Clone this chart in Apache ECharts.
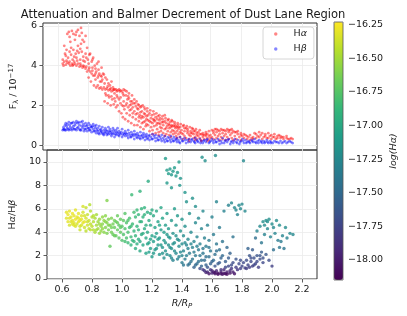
<!DOCTYPE html>
<html><head><meta charset="utf-8">
<script src="https://cdn.jsdelivr.net/npm/echarts@6/dist/echarts.min.js"></script>
<style>html,body{margin:0;padding:0;background:#fff}#c{width:407px;height:316px}</style>
</head><body><div id="c"></div>
<script>
const xTicks = [0.6,0.8,1.0,1.2,1.4,1.6,1.8,2.0,2.2];
const fluxTicks = [0,2,4,6];
const ratioTicks = [0,2,4,6,8,10];
const cbarTicks = [-18.0,-17.75,-17.5,-17.25,-17.0,-16.75,-16.5,-16.25];

// H-alpha flux [R/Rp, F / 1e-17]
const haPoints = [
[0.63,4.1],[0.63,4.3],[0.64,4.2],[0.64,5.0],[0.645,4.6],[0.65,4.05],[0.65,4.5],[0.66,4.15],[0.66,5.6],[0.665,4.4],[0.67,4.1],[0.67,5.7],[0.675,4.7],[0.68,4.0],[0.68,5.2],[0.685,4.55],[0.69,4.1],[0.69,5.75],[0.695,4.3],[0.70,4.05],[0.70,5.6],[0.70,4.8],
[0.71,4.1],[0.71,5.3],[0.715,4.6],[0.72,4.0],[0.72,5.7],[0.72,4.4],[0.73,4.1],[0.73,5.8],[0.73,5.0],[0.735,4.65],[0.74,3.95],[0.74,5.5],[0.745,4.3],[0.75,4.0],[0.75,5.9],[0.75,5.1],[0.755,4.7],[0.76,3.9],[0.76,5.3],[0.765,4.45],[0.77,3.95],[0.77,5.2],[0.775,4.2],[0.78,3.85],[0.78,5.5],[0.78,4.6],[0.79,3.7],[0.79,4.9],[0.795,4.3],[0.80,3.8],[0.80,4.1],[0.80,3.4],
[0.81,3.7],[0.81,4.6],[0.815,3.2],[0.82,3.6],[0.82,4.2],[0.825,3.9],[0.83,3.5],[0.83,4.4],[0.835,3.0],[0.84,3.5],[0.84,4.0],[0.845,3.3],[0.85,3.7],[0.85,2.9],[0.855,4.1],[0.86,3.4],[0.86,3.0],[0.865,3.8],[0.87,3.6],[0.87,2.85],[0.875,3.2],[0.88,3.5],[0.88,2.9],[0.885,3.9],[0.89,3.3],[0.89,2.8],[0.895,3.6],[0.90,3.55],[0.90,2.9],
[0.905,2.2],[0.91,3.4],[0.91,2.8],[0.915,2.5],[0.92,3.3],[0.92,2.85],[0.925,2.1],[0.93,3.1],[0.93,2.75],[0.935,2.4],[0.94,3.0],[0.94,2.8],[0.945,2.0],[0.95,3.2],[0.95,2.7],[0.955,2.3],[0.96,2.9],[0.96,2.75],[0.965,2.05],[0.97,2.8],[0.97,2.6],[0.975,2.2],[0.98,2.8],[0.98,1.9],[0.985,2.5],[0.99,2.75],[0.99,2.0],[1.0,2.8],[1.0,2.3],[1.0,1.7],
[1.01,2.75],[1.01,2.1],[1.015,1.6],[1.02,2.7],[1.02,2.0],[1.025,1.4],[1.03,2.8],[1.03,2.2],[1.035,1.8],[1.04,2.75],[1.04,1.3],[1.045,2.0],[1.05,2.7],[1.05,1.6],[1.055,2.3],[1.06,1.9],[1.06,1.2],[1.065,2.6],[1.07,2.0],[1.07,1.5],[1.075,2.2],[1.08,1.8],[1.08,1.1],[1.085,2.5],[1.09,1.9],[1.09,1.4],[1.095,2.1],[1.10,1.7],[1.10,1.0],[1.10,2.3],
[1.11,1.95],[1.11,1.3],[1.115,2.2],[1.12,1.6],[1.12,1.0],[1.125,1.8],[1.13,2.0],[1.13,1.2],[1.135,1.5],[1.14,1.9],[1.14,0.9],[1.145,1.35],[1.15,1.7],[1.15,1.1],[1.155,2.0],[1.16,1.4],[1.16,0.8],[1.165,1.6],[1.17,1.2],[1.17,1.8],[1.175,0.95],[1.18,1.45],[1.18,1.3],[1.185,1.7],[1.19,1.0],[1.19,1.5],[1.2,1.2],[1.2,0.7],[1.2,1.6],
[1.21,1.35],[1.21,0.9],[1.215,1.5],[1.22,1.1],[1.22,0.75],[1.225,1.3],[1.23,1.55],[1.23,0.95],[1.235,1.2],[1.24,1.4],[1.24,0.6],[1.245,1.0],[1.25,1.3],[1.25,0.8],[1.255,1.45],[1.26,1.1],[1.26,0.65],[1.265,1.25],[1.27,0.9],[1.27,1.35],[1.275,0.7],[1.28,1.15],[1.28,0.85],[1.285,1.3],[1.29,1.0],[1.29,0.6],[1.3,1.2],[1.3,0.8],[1.3,1.5],
[1.31,1.1],[1.31,0.55],[1.315,0.95],[1.32,1.25],[1.32,0.7],[1.325,1.05],[1.33,0.85],[1.33,0.5],[1.335,1.15],[1.34,0.9],[1.34,0.65],[1.345,1.0],[1.35,0.75],[1.35,1.2],[1.355,0.55],[1.36,0.95],[1.36,0.7],[1.365,1.05],[1.37,0.6],[1.37,0.85],[1.375,0.45],[1.38,0.9],[1.38,0.7],[1.385,1.0],[1.39,0.55],[1.39,0.8],[1.4,0.65],[1.4,0.9],[1.4,0.4],
[1.41,0.75],[1.42,0.55],[1.42,0.95],[1.43,0.45],[1.43,0.7],[1.44,0.85],[1.44,0.35],[1.45,0.6],[1.45,0.8],[1.46,0.5],[1.46,0.3],[1.47,0.7],[1.47,0.45],[1.48,0.6],[1.48,0.85],[1.49,0.35],[1.49,0.55],[1.5,0.7],[1.5,0.4],[1.51,0.5],[1.51,0.3],[1.52,0.65],[1.52,0.45],[1.53,0.75],[1.53,0.35],[1.54,0.55],[1.54,0.25],[1.55,0.6],[1.55,0.4],[1.56,0.5],[1.56,0.3],[1.57,0.65],[1.57,0.45],[1.58,0.35],[1.58,0.55],[1.59,0.7],[1.59,0.25],[1.6,0.5],[1.6,0.35],
[1.61,0.75],[1.61,0.4],[1.62,0.6],[1.62,0.3],[1.63,0.8],[1.63,0.5],[1.64,0.35],[1.64,0.65],[1.65,0.75],[1.65,0.45],[1.66,0.25],[1.66,0.55],[1.67,0.8],[1.67,0.4],[1.68,0.6],[1.68,0.3],[1.69,0.75],[1.69,0.45],[1.70,0.55],[1.70,0.25],[1.71,0.8],[1.71,0.4],[1.72,0.65],[1.72,0.3],[1.73,0.75],[1.73,0.5],[1.74,0.35],[1.74,0.6],[1.75,0.7],[1.75,0.25],[1.76,0.45],[1.77,0.65],[1.77,0.3],[1.78,0.55],[1.79,0.4],[1.80,0.6],[1.80,0.25],[1.81,0.45],[1.82,0.35],[1.83,0.5],[1.84,0.3],[1.85,0.4],[1.86,0.25],[1.87,0.35],[1.88,0.3],
[1.89,0.6],[1.90,0.55],[1.91,0.45],[1.92,0.65],[1.93,0.5],[1.94,0.6],[1.95,0.4],[1.96,0.55],[1.97,0.35],[1.98,0.6],[1.99,0.45],[2.0,0.5],[2.01,0.4],[2.02,0.55],[2.03,0.3],[2.04,0.45],[2.05,0.5],[2.06,0.35],[2.07,0.4],[2.08,0.3],[2.1,0.35],[2.12,0.3],[2.14,0.3],
[0.635,4.0],[0.655,4.25],[0.675,4.2],[0.695,4.0],[0.705,4.2],[0.725,4.25],[0.745,4.1],[0.765,4.0],[0.785,3.95],[0.805,3.9],[0.825,3.75],[0.845,3.6],[0.865,3.5],[0.885,3.2],[0.905,3.1],[0.925,2.95],[0.945,2.85],[0.965,2.8],[0.985,2.7],[1.005,2.7],[1.025,2.6],[1.045,2.5],[1.065,2.35],[1.085,2.2],[1.105,2.1],[1.125,2.05],[1.145,1.95],[1.165,1.9],[1.185,1.85],[1.205,1.75],[1.225,1.7],[1.245,1.6],[1.265,1.5],[1.285,1.45],[1.305,1.35],[1.325,1.3],[1.345,1.25],[1.365,1.15],[1.385,1.1],[1.405,1.05],[1.425,1.0],[1.445,0.95],[1.465,0.9],[1.485,0.8],[1.505,0.8],
[0.91,2.6],[0.93,2.5],[0.95,2.45],[0.97,2.35],[0.99,2.4],[1.01,2.4],[1.03,1.95],[1.05,2.1],[1.07,1.75],[1.09,1.6],[1.11,1.55],[1.13,1.4],[1.15,1.45],[1.17,1.55],[1.19,1.25],[1.03,2.5],[1.06,2.45],[1.08,2.05],[1.12,1.85],[1.14,1.65],[1.16,1.15],[1.18,1.05],
[1.21,1.15],[1.23,1.25],[1.25,1.1],[1.27,1.05],[1.29,1.15],[1.31,0.85],[1.33,1.0],[1.35,0.95],[1.37,0.95],[1.39,0.9],[1.41,0.6],[1.43,0.85],[1.45,0.7],[1.47,0.6],[1.49,0.7],[1.51,0.6],[1.53,0.55],[1.55,0.5],[1.57,0.55],[1.59,0.45],[1.22,0.55],[1.26,0.5],[1.3,0.45],[1.34,0.4],[1.38,0.35],[1.42,0.3],[1.46,0.2],[1.5,0.25],[1.54,0.2],[1.58,0.2],
[1.62,0.7],[1.64,0.8],[1.66,0.7],[1.68,0.75],[1.70,0.7],[1.72,0.75],[1.74,0.8],[1.76,0.65],[1.78,0.7],[1.80,0.5],[1.82,0.55],[1.84,0.45],[1.86,0.5],[1.88,0.4],[1.90,0.35],[1.92,0.4],[1.94,0.3],[1.96,0.45],[1.98,0.35],[2.0,0.3],[2.02,0.4],[2.04,0.35],[2.06,0.45],[2.08,0.4],[2.10,0.45],[2.11,0.3],[2.13,0.35],
[0.655,4.8],[0.685,4.9],[0.705,4.45],[0.725,4.75],[0.745,4.85],[0.765,4.25],[0.785,4.4],[0.805,4.55],[0.825,4.3],[0.845,3.85],[0.865,4.2],[0.885,3.45],[0.675,5.45],[0.715,5.55],[0.755,5.65]
];

// H-beta flux [R/Rp, F / 1e-17]
const hbPoints = [
[0.63,0.75],[0.635,0.9],[0.64,0.8],[0.645,1.0],[0.65,0.75],[0.65,1.1],[0.66,0.85],[0.66,1.05],[0.67,0.75],[0.67,1.15],[0.68,0.9],[0.68,0.8],[0.69,1.1],[0.69,0.75],[0.70,0.95],[0.70,1.15],[0.71,0.8],[0.71,1.0],[0.72,0.75],[0.72,1.2],[0.73,0.9],[0.73,1.1],[0.74,0.8],[0.74,1.0],[0.75,0.75],[0.75,1.15],[0.76,0.85],[0.76,1.2],[0.77,0.95],[0.77,0.7],[0.78,1.1],[0.78,0.8],[0.79,1.0],[0.79,0.7],[0.80,1.1],[0.80,0.85],[0.81,0.75],[0.81,1.0],[0.82,0.9],[0.82,0.65],[0.83,1.05],[0.83,0.8],[0.84,0.7],[0.84,0.95],[0.85,1.0],[0.85,0.6],[0.86,0.85],[0.86,0.7],[0.87,0.95],[0.87,0.55],[0.88,0.8],[0.88,0.65],[0.89,0.9],[0.89,0.6],[0.90,0.75],[0.90,0.5],
[0.91,0.85],[0.91,0.6],[0.92,0.7],[0.92,0.5],[0.93,0.9],[0.93,0.55],[0.94,0.65],[0.94,0.8],[0.95,0.45],[0.95,0.7],[0.96,0.85],[0.96,0.55],[0.97,0.65],[0.97,0.4],[0.98,0.75],[0.98,0.5],[0.99,0.6],[0.99,0.85],[1.0,0.45],[1.0,0.7],[1.01,0.55],[1.02,0.8],[1.02,0.4],[1.03,0.6],[1.04,0.7],[1.04,0.45],[1.05,0.55],[1.06,0.75],[1.06,0.35],[1.07,0.5],[1.08,0.65],[1.08,0.4],[1.09,0.55],[1.10,0.7],[1.10,0.3],[1.11,0.5],[1.12,0.6],[1.12,0.35],[1.13,0.45],[1.14,0.65],[1.14,0.3],[1.15,0.5],[1.16,0.4],[1.16,0.6],[1.17,0.25],[1.18,0.45],[1.18,0.55],[1.19,0.35],[1.2,0.5],[1.2,0.25],
[1.21,0.4],[1.22,0.55],[1.22,0.3],[1.23,0.45],[1.24,0.2],[1.24,0.5],[1.25,0.35],[1.26,0.45],[1.26,0.25],[1.27,0.4],[1.28,0.5],[1.28,0.2],[1.29,0.35],[1.30,0.45],[1.30,0.15],[1.31,0.3],[1.32,0.4],[1.32,0.2],[1.33,0.35],[1.34,0.45],[1.34,0.15],[1.35,0.3],[1.36,0.4],[1.36,0.2],[1.37,0.3],[1.38,0.35],[1.38,0.15],[1.39,0.25],[1.40,0.4],[1.40,0.1],[1.41,0.3],[1.42,0.2],[1.43,0.35],[1.44,0.1],[1.45,0.25],[1.46,0.3],[1.47,0.15],[1.48,0.3],[1.49,0.2],[1.50,0.35],[1.50,0.1],[1.51,0.25],[1.52,0.15],[1.53,0.3],[1.54,0.2],[1.55,0.1],[1.56,0.25],[1.57,0.15],[1.58,0.3],[1.59,0.1],[1.60,0.2],
[1.61,0.3],[1.62,0.1],[1.63,0.25],[1.64,0.15],[1.65,0.3],[1.66,0.05],[1.67,0.2],[1.68,0.35],[1.69,0.1],[1.70,0.25],[1.71,0.15],[1.72,0.3],[1.73,0.05],[1.74,0.2],[1.75,0.1],[1.76,0.3],[1.77,0.15],[1.78,0.25],[1.79,0.05],[1.80,0.2],[1.81,0.3],[1.82,0.1],[1.83,0.25],[1.84,0.15],[1.85,0.2],[1.86,0.1],[1.87,0.25],[1.88,0.15],[1.89,0.3],[1.90,0.1],[1.91,0.2],[1.92,0.25],[1.93,0.15],[1.94,0.1],[1.95,0.2],[1.96,0.15],[1.97,0.25],[1.98,0.1],[1.99,0.2],[2.0,0.15],[2.01,0.1],[2.02,0.2],[2.04,0.15],[2.05,0.1],[2.06,0.2],[2.08,0.15],[2.10,0.1],[2.12,0.2],[2.14,0.1],
[0.635,0.8],[0.645,0.75],[0.655,0.95],[0.665,0.8],[0.675,1.0],[0.685,1.1],[0.695,0.85],[0.705,0.8],[0.715,1.1],[0.725,0.85],[0.735,1.15],[0.745,0.75],[0.755,0.95],[0.765,1.05],[0.775,0.8],[0.785,0.95],[0.795,0.85],[0.805,0.75],[0.815,0.9],[0.825,0.95],[0.835,0.7],[0.845,0.85],[0.855,0.75],[0.865,0.6],[0.875,0.75],[0.885,0.7],[0.895,0.55],
[0.905,0.65],[0.915,0.75],[0.925,0.6],[0.935,0.7],[0.945,0.55],[0.955,0.6],[0.965,0.75],[0.975,0.55],[0.985,0.65],[0.995,0.5],[1.005,0.6],[1.015,0.65],[1.025,0.5],[1.035,0.55],[1.045,0.6],[1.055,0.45],[1.065,0.6],[1.075,0.4],[1.085,0.5],[1.095,0.45],[1.105,0.55],[1.115,0.4],[1.125,0.5],[1.135,0.35],[1.145,0.45],[1.155,0.35],[1.165,0.5],[1.175,0.4],[1.185,0.3],[1.195,0.45],
[1.215,0.3],[1.235,0.35],[1.255,0.25],[1.275,0.3],[1.295,0.25],[1.315,0.2],[1.335,0.25],[1.355,0.2],[1.375,0.25],[1.395,0.15],[1.415,0.2],[1.435,0.25],[1.455,0.15],[1.475,0.25],[1.495,0.15],[1.515,0.2],[1.535,0.1],[1.555,0.2],[1.575,0.25],[1.595,0.15],[1.615,0.2],[1.635,0.15],[1.655,0.2],[1.675,0.1],[1.695,0.2],[1.715,0.25],[1.735,0.15],[1.755,0.2],[1.775,0.1],[1.795,0.15],[1.815,0.2],[1.835,0.1],[1.855,0.15],[1.875,0.2],[1.895,0.15],[1.915,0.1],[1.935,0.2],[1.955,0.1],[1.975,0.15],[1.995,0.1],[2.03,0.15],[2.07,0.1],[2.09,0.2],[2.11,0.15],[2.13,0.15]
];

// Balmer decrement [R/Rp, Halpha/Hbeta, log(Halpha)]
const ratioPoints = [
[0.63,5.7,-16.3],[0.63,5.2,-16.32],[0.64,4.9,-16.3],[0.64,5.5,-16.28],[0.65,5.8,-16.3],[0.65,4.6,-16.35],[0.66,5.3,-16.3],[0.66,4.9,-16.32],[0.67,5.6,-16.28],[0.67,5.0,-16.3],[0.68,4.8,-16.32],[0.68,5.4,-16.3],[0.69,5.9,-16.3],[0.69,5.1,-16.28],[0.70,4.7,-16.35],[0.70,5.3,-16.3],[0.71,5.6,-16.3],[0.71,4.9,-16.3],[0.72,5.0,-16.28],[0.72,4.5,-16.35],[0.73,5.4,-16.32],[0.73,5.1,-16.3],[0.74,4.8,-16.3],[0.74,5.7,-16.35],[0.75,4.9,-16.3],[0.75,4.4,-16.38],[0.76,5.2,-16.35],[0.76,6.1,-16.4],[0.77,4.6,-16.38],[0.77,5.5,-16.4],[0.78,4.3,-16.4],[0.78,5.0,-16.38],[0.79,4.7,-16.42],[0.79,5.8,-16.45],[0.80,4.5,-16.42],[0.80,5.3,-16.45],[0.785,6.35,-16.45],[0.74,6.2,-16.35],[0.76,4.1,-16.42],[0.68,4.6,-16.32],[0.72,4.2,-16.38],
[0.81,4.2,-16.45],[0.81,4.9,-16.45],[0.82,4.0,-16.48],[0.82,5.2,-16.48],[0.83,4.6,-16.5],[0.83,5.5,-16.5],[0.84,4.3,-16.5],[0.84,4.9,-16.52],[0.85,3.9,-16.52],[0.85,5.1,-16.52],[0.86,4.5,-16.55],[0.86,4.1,-16.55],[0.87,5.3,-16.55],[0.87,4.7,-16.58],[0.88,4.0,-16.58],[0.88,5.0,-16.55],[0.89,4.4,-16.6],[0.89,5.4,-16.58],[0.90,4.8,-16.6],[0.90,3.9,-16.62],[0.90,6.7,-16.6],[0.91,4.2,-16.62],[0.91,5.1,-16.6],[0.92,4.6,-16.62],[0.92,2.8,-16.7],[0.93,4.0,-16.65],[0.93,5.2,-16.62],[0.94,4.7,-16.65],[0.94,3.8,-16.68],[0.95,5.0,-16.65],[0.95,4.4,-16.68],[0.96,3.7,-16.7],[0.96,4.9,-16.68],[0.97,4.2,-16.7],[0.97,5.4,-16.68],[0.98,4.6,-16.72],[0.98,3.5,-16.72],[0.99,5.1,-16.7],[0.99,4.0,-16.72],[1.0,4.5,-16.75],[1.0,3.3,-16.78],
[1.01,5.0,-16.72],[1.01,3.8,-16.78],[1.02,4.3,-16.78],[1.02,5.6,-16.75],[1.03,3.5,-16.8],[1.03,4.8,-16.78],[1.04,4.0,-16.8],[1.04,3.1,-16.85],[1.05,5.2,-16.8],[1.05,4.4,-16.82],[1.06,3.6,-16.85],[1.06,2.9,-16.9],[1.065,7.2,-16.85],[1.07,4.7,-16.85],[1.07,3.3,-16.9],[1.08,5.7,-16.82],[1.08,4.1,-16.88],[1.09,2.6,-16.95],[1.09,3.7,-16.9],[1.10,5.9,-16.85],[1.10,4.5,-16.9],[1.10,3.0,-16.95],[1.11,5.5,-16.88],[1.11,3.4,-16.95],[1.12,7.5,-16.9],[1.12,4.9,-16.9],[1.12,2.4,-17.0],[1.13,6.0,-16.9],[1.13,3.8,-16.98],[1.14,5.3,-16.92],[1.14,2.9,-17.02],[1.15,4.3,-16.98],[1.15,6.1,-16.92],[1.16,3.5,-17.0],[1.16,2.2,-17.05],[1.17,5.7,-16.95],[1.17,4.0,-17.0],[1.175,8.35,-16.98],[1.18,3.1,-17.05],[1.18,5.0,-16.98],[1.19,2.6,-17.08],[1.19,4.6,-17.02],[1.2,5.9,-16.98],[1.2,3.7,-17.05],[1.2,1.9,-17.1],
[1.21,5.4,-17.0],[1.21,3.2,-17.08],[1.22,4.4,-17.05],[1.22,2.5,-17.12],[1.23,5.8,-17.0],[1.23,3.9,-17.08],[1.24,2.9,-17.12],[1.24,4.9,-17.05],[1.25,2.1,-17.15],[1.25,3.5,-17.1],[1.26,6.1,-17.02],[1.26,4.2,-17.1],[1.27,2.7,-17.15],[1.27,5.2,-17.05],[1.28,3.3,-17.12],[1.28,1.8,-17.2],[1.29,4.6,-17.1],[1.29,10.3,-17.1],[1.29,2.4,-17.18],[1.30,5.6,-17.08],[1.30,3.8,-17.12],[1.30,8.2,-17.12],[1.30,9.3,-17.1],[1.31,2.9,-17.18],[1.31,9.0,-17.1],[1.31,4.3,-17.12],[1.32,2.0,-17.22],[1.32,9.4,-17.12],[1.32,3.5,-17.15],[1.33,5.0,-17.12],[1.33,8.9,-17.12],[1.33,2.6,-17.2],[1.34,9.2,-17.12],[1.34,3.9,-17.18],[1.34,1.6,-17.3],[1.35,6.0,-17.1],[1.35,9.5,-17.1],[1.35,3.1,-17.2],[1.36,2.2,-17.25],[1.36,8.8,-17.12],[1.36,4.6,-17.15],[1.37,9.1,-17.12],[1.37,3.4,-17.2],[1.37,5.4,-17.12],[1.38,1.9,-17.3],[1.38,10.0,-17.1],[1.38,2.8,-17.22],[1.39,4.1,-17.18],[1.39,8.6,-17.15],[1.40,3.0,-17.22],[1.40,1.4,-17.35],[1.40,5.1,-17.15],[1.385,8.0,-17.15],[1.33,7.8,-17.12],
[1.41,2.4,-17.28],[1.41,3.7,-17.22],[1.42,7.4,-17.15],[1.42,1.7,-17.35],[1.42,4.5,-17.2],[1.43,2.9,-17.28],[1.43,6.6,-17.18],[1.44,1.2,-17.45],[1.44,3.4,-17.25],[1.45,5.6,-17.2],[1.45,2.2,-17.35],[1.46,4.0,-17.25],[1.46,1.5,-17.42],[1.47,6.9,-17.18],[1.47,2.7,-17.3],[1.48,3.2,-17.28],[1.48,1.0,-17.55],[1.49,4.8,-17.25],[1.49,6.2,-17.2],[1.49,2.0,-17.38],[1.50,3.6,-17.28],[1.50,1.3,-17.48],[1.51,2.5,-17.35],[1.51,5.2,-17.25],[1.52,0.9,-17.7],[1.52,3.0,-17.32],[1.53,4.3,-17.28],[1.53,1.6,-17.45],[1.534,10.4,-17.18],[1.554,10.1,-17.2],[1.54,2.2,-17.4],[1.54,5.8,-17.25],[1.55,0.7,-17.85],[1.55,3.5,-17.32],[1.56,1.2,-17.55],[1.56,2.8,-17.35],[1.57,4.6,-17.3],[1.57,0.6,-17.9],[1.58,1.9,-17.45],[1.58,3.3,-17.35],[1.59,0.8,-17.85],[1.59,2.4,-17.4],[1.60,5.3,-17.3],[1.60,0.5,-17.95],[1.60,1.5,-17.55],
[1.61,0.6,-18.0],[1.61,3.8,-17.35],[1.62,2.1,-17.45],[1.62,0.45,-18.05],[1.623,10.55,-17.2],[1.63,6.6,-17.28],[1.63,0.7,-17.95],[1.63,3.0,-17.4],[1.64,1.3,-17.6],[1.64,0.5,-18.05],[1.65,4.4,-17.35],[1.65,2.5,-17.45],[1.66,0.6,-18.0],[1.66,1.8,-17.55],[1.67,0.4,-18.08],[1.67,3.2,-17.42],[1.68,5.8,-17.3],[1.68,0.8,-17.95],[1.69,1.5,-17.6],[1.69,0.45,-18.1],[1.70,2.7,-17.5],[1.70,0.6,-18.0],[1.71,1.1,-17.75],[1.71,6.3,-17.3],[1.72,0.5,-18.05],[1.72,2.2,-17.55],[1.73,0.9,-17.85],[1.73,6.5,-17.25],[1.74,1.4,-17.7],[1.74,3.6,-17.42],[1.75,0.45,-18.05],[1.75,6.1,-17.25],[1.76,1.0,-17.8],[1.76,1.7,-17.65],[1.77,0.8,-17.85],[1.77,5.5,-17.28],[1.78,1.3,-17.72],[1.78,6.3,-17.25],[1.79,0.9,-17.8],[1.79,1.6,-17.7],[1.80,1.1,-17.75],[1.80,6.4,-17.25],[1.81,10.1,-17.25],[1.81,1.4,-17.72],[1.82,5.8,-17.25],
[1.82,0.95,-17.78],[1.83,1.6,-17.7],[1.84,1.2,-17.75],[1.85,2.0,-17.65],[1.85,1.0,-17.8],[1.86,1.5,-17.72],[1.87,2.5,-17.6],[1.87,1.1,-17.78],[1.88,1.8,-17.68],[1.89,1.3,-17.75],[1.89,3.5,-17.45],[1.90,2.0,-17.65],[1.90,4.1,-17.3],[1.91,1.0,-17.8],[1.92,1.7,-17.7],[1.92,4.5,-17.25],[1.93,2.3,-17.6],[1.94,4.9,-17.2],[1.94,1.4,-17.72],[1.95,3.8,-17.3],[1.96,2.1,-17.62],[1.96,5.0,-17.2],[1.97,4.3,-17.25],[1.98,1.6,-17.7],[1.98,5.1,-17.2],[1.99,3.6,-17.3],[2.0,1.1,-17.78],[2.0,4.7,-17.22],[2.01,2.5,-17.45],[2.02,3.9,-17.28],[2.03,5.0,-17.22],[2.04,3.3,-17.35],[2.05,2.7,-17.4],[2.05,4.6,-17.22],[2.07,3.7,-17.28],[2.08,2.6,-17.4],[2.09,4.4,-17.22],[2.10,3.5,-17.3],[2.12,3.9,-17.25],[2.14,3.8,-17.25],
[1.12,3.2,-17.0],[1.14,3.9,-16.98],[1.16,4.6,-16.95],[1.18,2.3,-17.08],[1.19,3.4,-17.05],[1.21,2.2,-17.12],[1.22,3.6,-17.08],[1.23,2.6,-17.12],[1.24,3.4,-17.1],[1.25,4.6,-17.05],[1.26,2.9,-17.12],[1.27,2.2,-17.18],[1.28,4.0,-17.1],[1.29,3.1,-17.15],[1.30,2.1,-17.2],[1.31,3.6,-17.15],[1.32,2.7,-17.18],[1.33,1.8,-17.25],[1.34,3.0,-17.18],[1.35,2.4,-17.22],[1.36,3.7,-17.18],[1.37,1.7,-17.3],[1.38,3.3,-17.2],[1.39,2.3,-17.25],[1.40,2.0,-17.28],[1.41,1.2,-17.4],[1.42,3.1,-17.25],[1.43,2.0,-17.32],[1.44,2.6,-17.3],[1.45,1.3,-17.45],[1.46,3.0,-17.28],[1.47,1.7,-17.4],[1.48,2.3,-17.35],[1.49,1.2,-17.5],[1.50,2.8,-17.32],[1.51,1.5,-17.45],[1.52,2.0,-17.4],[1.53,1.1,-17.55],[1.54,2.6,-17.38],[1.55,1.6,-17.5],[1.56,1.9,-17.45],[1.57,1.0,-17.65],[1.58,2.7,-17.4],[1.59,1.3,-17.55],[1.61,1.6,-17.5],[1.62,1.1,-17.65],[1.63,2.4,-17.45],[1.65,1.4,-17.6],[1.66,0.8,-17.9],[1.67,2.0,-17.5],[1.69,1.0,-17.75],[1.71,1.8,-17.6],[1.73,1.2,-17.7],[1.74,0.6,-18.0],[1.58,0.45,-18.05],[1.60,0.7,-17.95],[1.62,0.55,-18.05],[1.64,0.4,-18.1],[1.66,0.45,-18.05],[1.68,0.5,-18.05],[1.70,0.4,-18.1],[1.72,0.7,-17.95],[1.56,0.55,-17.95],[1.54,0.8,-17.85],
[1.02,3.2,-16.82],[1.04,5.0,-16.78],[1.06,4.5,-16.85],[1.08,3.2,-16.9],[1.09,5.3,-16.85],[1.11,4.2,-16.92],[1.13,4.9,-16.92],[1.15,5.5,-16.92],[1.17,3.0,-17.05],[1.19,5.6,-16.95],
[0.65,5.2,-16.3],[0.67,4.7,-16.32],[0.69,4.5,-16.33],[0.71,5.2,-16.3],[0.73,4.6,-16.35],[0.75,5.4,-16.35],[0.77,4.9,-16.38],[0.79,4.2,-16.42],[0.81,5.4,-16.45],[0.83,4.2,-16.5],[0.85,4.7,-16.52],[0.87,4.3,-16.55],[0.89,4.9,-16.58],[0.91,4.6,-16.6],[0.93,4.4,-16.65],[0.95,3.7,-16.68],[0.97,4.8,-16.68],[0.99,4.4,-16.72],
[1.76,5.9,-17.25],[1.79,6.0,-17.25],[1.95,4.6,-17.22],[1.97,4.9,-17.2],[2.01,4.4,-17.25],[1.93,3.1,-17.4],[2.06,3.2,-17.35],[1.84,2.6,-17.55],[1.86,1.8,-17.7],[1.83,0.9,-17.8],[1.88,1.2,-17.75],[1.90,1.5,-17.72],[1.92,2.0,-17.65],[1.94,1.8,-17.68]
];

const viridis = ['#440154','#482878','#3e4989','#31688e','#26828e','#1f9e89','#35b779','#6ece58','#b5de2b','#fde725'];
const FONT = 'DejaVu Sans';
const TXT = '#1a1a1a';
const SPINE = '#333333';
const GRIDC = '#ebebeb';

function valueAxis(extra) {
  return Object.assign({
    type: 'value',
    axisLine: { show: false },
    axisTick: { show: true, length: 3.5, lineStyle: { color: SPINE, width: 0.8 } },
    axisLabel: { color: TXT, fontFamily: FONT, fontSize: 9.5, margin: 6 },
    splitLine: { show: true, lineStyle: { color: GRIDC, width: 0.8 } },
    nameTextStyle: { color: TXT, fontFamily: FONT, fontSize: 9.5 }
  }, extra);
}

const chart = echarts.init(document.getElementById('c'), null, { renderer: 'canvas' });
chart.setOption({
  animation: false,
  backgroundColor: '#fff',
  title: {
    text: 'Attenuation and Balmer Decrement of Dust Lane Region',
    left: 178, top: 4, textAlign: 'center',
    textStyle: { fontFamily: FONT, fontSize: 11.5, fontWeight: 'normal', color: TXT }
  },
  grid: [
    { left: 40, top: 23, width: 277, height: 127, show: true, borderColor: SPINE, borderWidth: 1, backgroundColor: 'transparent' },
    { left: 40, top: 150, width: 277, height: 129, show: true, borderColor: SPINE, borderWidth: 1, backgroundColor: 'transparent' },
    { left: 334, top: 22, width: 9, height: 258, show: false }
  ],
  xAxis: [
    valueAxis({ gridIndex: 0, min: 0.5, max: 2.3,
      axisTick: { show: false, customValues: xTicks },
      axisLabel: { show: false, customValues: xTicks } }),
    valueAxis({ gridIndex: 1, min: 0.5, max: 2.3,
      axisTick: { show: true, length: 3.5, lineStyle: { color: SPINE, width: 0.8 }, customValues: xTicks },
      axisLabel: { color: TXT, fontFamily: FONT, fontSize: 9.5, margin: 6, customValues: xTicks, formatter: v => v.toFixed(1) },
      name: 'R/R{s|P}', nameLocation: 'middle', nameGap: 19,
      nameTextStyle: { color: TXT, fontFamily: FONT, fontSize: 9.5, fontStyle: 'italic',
        rich: { s: { fontFamily: FONT, fontSize: 7, fontStyle: 'italic', color: TXT, padding: [5, 0, 0, 0] } } } }),
    { type: 'value', gridIndex: 2, min: 0, max: 1, show: false }
  ],
  yAxis: [
    valueAxis({ gridIndex: 0, min: -0.25, max: 6.15,
      axisTick: { show: true, length: 3.5, lineStyle: { color: SPINE, width: 0.8 }, customValues: fluxTicks },
      axisLabel: { color: TXT, fontFamily: FONT, fontSize: 9.5, margin: 6, customValues: fluxTicks },
      name: 'F{s|\u03bb} / 10{p|\u221217}', nameLocation: 'middle', nameGap: 14,
      nameTextStyle: { color: TXT, fontFamily: FONT, fontSize: 9.5,
        rich: { s: { fontFamily: FONT, fontSize: 7, color: TXT, padding: [5, 0, 0, 0] },
                p: { fontFamily: FONT, fontSize: 7, color: TXT, padding: [0, 0, 5, 0] } } } }),
    valueAxis({ gridIndex: 1, min: 0, max: 11.02,
      axisTick: { show: true, length: 3.5, lineStyle: { color: SPINE, width: 0.8 }, customValues: ratioTicks },
      axisLabel: { color: TXT, fontFamily: FONT, fontSize: 9.5, margin: 6, customValues: ratioTicks },
      name: 'H{i|\u03b1}/H{i|\u03b2}', nameLocation: 'middle', nameGap: 22,
      nameTextStyle: { color: TXT, fontFamily: FONT, fontSize: 9.5,
        rich: { i: { fontFamily: FONT, fontSize: 9.5, fontStyle: 'italic', color: TXT } } } }),
    { type: 'value', gridIndex: 2, min: -18.15, max: -16.23, position: 'right',
      axisLine: { show: false },
      axisTick: { show: true, length: 3.5, lineStyle: { color: SPINE, width: 0.8 }, customValues: cbarTicks },
      axisLabel: { color: TXT, fontFamily: FONT, fontSize: 9.5, margin: 5, customValues: cbarTicks,
        formatter: v => (v < 0 ? '\u2212' : '') + Math.abs(v).toFixed(2) },
      splitLine: { show: false },
      name: 'log(H\u03b1)', nameLocation: 'middle', nameGap: 46, nameRotate: 90,
      nameTextStyle: { color: TXT, fontFamily: FONT, fontSize: 9.5, fontStyle: 'italic' } }
  ],
  visualMap: {
    type: 'continuous', seriesIndex: 2, dimension: 2,
    min: -18.15, max: -16.23, calculable: false, hoverLink: false,
    left: 334, top: 22, itemWidth: 9, itemHeight: 258, padding: 0,
    text: null, showLabel: false, z: 1,
    inRange: { color: viridis }
  },
  legend: {
    left: 263, top: 27, orient: 'vertical',
    data: ['H\u03b1', 'H\u03b2'],
    icon: 'circle', itemWidth: 3.5, itemHeight: 3.5, itemGap: 3,
    padding: [1, 7, 4, 11],
    backgroundColor: 'rgba(255,255,255,0.85)', borderColor: '#cccccc', borderWidth: 0.8, borderRadius: 3,
    formatter: n => 'H{i|' + n.slice(1) + '}',
    textStyle: { color: TXT, fontFamily: FONT, fontSize: 9.5, lineHeight: 12, padding: [0, 0, 0, 11],
      rich: { i: { fontFamily: FONT, fontSize: 9.5, fontStyle: 'italic', color: TXT } } }
  },
  graphic: [
    { type: 'rect', z: 100, silent: true,
      shape: { x: 334, y: 22, width: 9, height: 258 },
      style: { fill: 'none', stroke: '#555555', lineWidth: 0.8 } }
  ],
  series: [
    { name: 'H\u03b1', type: 'scatter', xAxisIndex: 0, yAxisIndex: 0, data: haPoints,
      symbolSize: 2.8, itemStyle: { color: 'rgba(255,0,0,0.6)' }, silent: true },
    { name: 'H\u03b2', type: 'scatter', xAxisIndex: 0, yAxisIndex: 0, data: hbPoints,
      symbolSize: 2.8, itemStyle: { color: 'rgba(0,0,255,0.6)' }, silent: true },
    { name: 'ratio', type: 'scatter', xAxisIndex: 1, yAxisIndex: 1, data: ratioPoints,
      symbolSize: 3.4, silent: true }
  ]
});
</script>
</body></html>
